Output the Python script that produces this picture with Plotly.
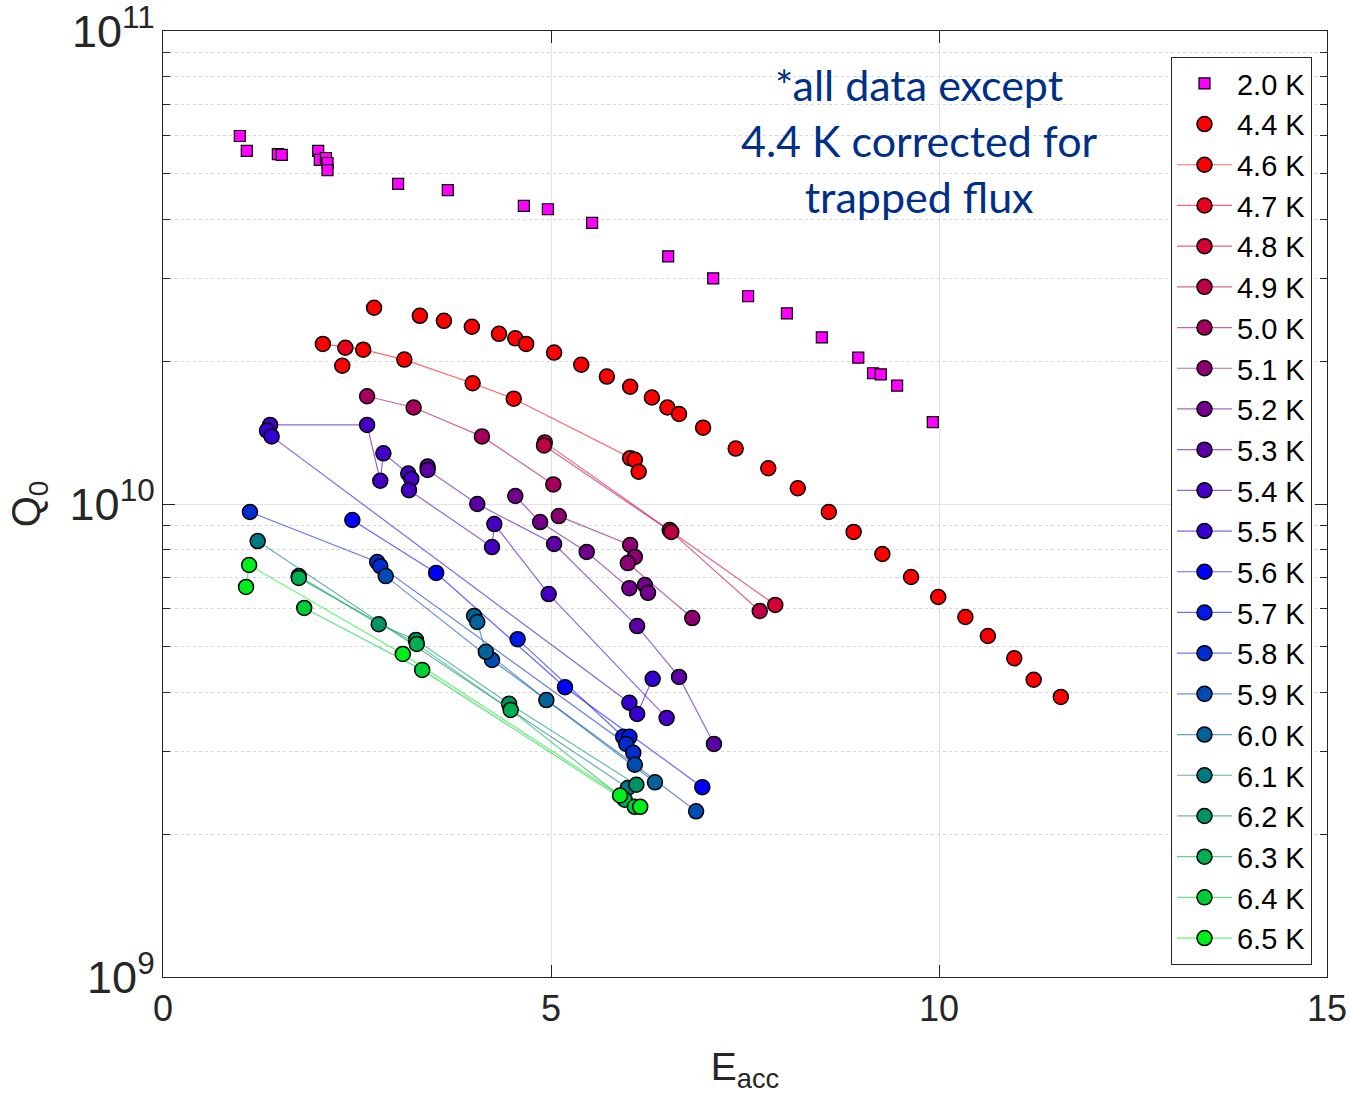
import plotly.graph_objects as go

# Accelerating gradient E_acc (MV/m) and intrinsic quality factor Q0 per bath temperature
E_20 = [0.99, 1.08, 1.48, 1.53, 2.00, 2.02, 2.10, 2.12, 2.12, 3.03, 3.67, 4.65, 4.96, 5.53,
        6.51, 7.09, 7.54, 8.04, 8.49, 8.96, 9.15, 9.25, 9.46, 9.92]
Q_20 = [6.00e10, 5.58e10, 5.49e10, 5.47e10, 5.58e10, 5.34e10, 5.39e10, 5.26e10, 5.08e10, 4.75e10,
        4.61e10, 4.27e10, 4.20e10, 3.93e10, 3.34e10, 3.00e10, 2.75e10, 2.53e10, 2.25e10, 2.04e10,
        1.89e10, 1.88e10, 1.78e10, 1.49e10]

E_44 = [2.31, 2.72, 3.31, 3.62, 3.98, 4.33, 4.54, 4.68, 5.04, 5.39, 5.72, 6.02, 6.30, 6.50, 6.65,
        6.96, 7.38, 7.80, 8.18, 8.58, 8.90, 9.27, 9.64, 9.99, 10.34, 10.63, 10.97, 11.22, 11.57]
Q_44 = [1.96e10, 2.60e10, 2.50e10, 2.44e10, 2.37e10, 2.29e10, 2.24e10, 2.18e10, 2.09e10, 1.97e10,
        1.86e10, 1.77e10, 1.68e10, 1.60e10, 1.55e10, 1.45e10, 1.31e10, 1.19e10, 1.08e10, 9.62e9,
        8.73e9, 7.84e9, 7.01e9, 6.36e9, 5.77e9, 5.26e9, 4.72e9, 4.25e9, 3.91e9]

E_46 = [2.06, 2.58, 3.11, 3.99, 4.52, 6.02, 6.08, 6.13]
Q_46 = [2.18e10, 2.12e10, 2.02e10, 1.80e10, 1.67e10, 1.25e10, 1.24e10, 1.17e10]

E_47 = [2.35]
Q_47 = [2.14e10]

E_48 = [4.92, 6.53, 7.89]
Q_48 = [1.35e10, 8.81e9, 6.12e9]

E_49 = [4.91, 6.55, 7.69]
Q_49 = [1.33e10, 8.73e9, 5.94e9]

E_50 = [2.63, 3.23, 4.11, 5.03]
Q_50 = [1.69e10, 1.60e10, 1.39e10, 1.10e10]

E_51 = [5.10, 6.02, 6.08, 5.99, 6.82]
Q_51 = [9.43e9, 8.19e9, 7.73e9, 7.50e9, 5.74e9]

E_52 = [4.54, 4.86, 5.46, 6.01, 6.21, 6.25]
Q_52 = [1.04e10, 9.16e9, 7.92e9, 6.64e9, 6.74e9, 6.49e9]

E_53 = [3.41, 3.41, 4.05, 5.04, 6.11, 6.65, 7.10]
Q_53 = [1.20e10, 1.18e10, 1.00e10, 8.23e9, 5.52e9, 4.31e9, 3.11e9]

E_54 = [1.38, 2.63, 2.80, 2.84, 3.16, 3.20, 3.17, 4.24, 4.27, 4.97, 6.49]
Q_54 = [1.47e10, 1.47e10, 1.12e10, 1.28e10, 1.16e10, 1.13e10, 1.07e10, 8.11e9, 9.07e9, 6.45e9, 3.53e9]

E_55 = [1.34, 1.40, 6.01, 6.11, 6.31]
Q_55 = [1.43e10, 1.39e10, 3.80e9, 3.60e9, 4.27e9]

E_56 = [2.44, 3.52, 5.18, 6.95]
Q_56 = [9.25e9, 7.15e9, 4.10e9, 2.52e9]

E_57 = [4.57, 5.93, 6.01]
Q_57 = [5.18e9, 3.22e9, 3.22e9]

E_58 = [1.12, 2.76, 2.80, 5.97, 6.06]
Q_58 = [9.62e9, 7.54e9, 7.39e9, 3.11e9, 2.98e9]

E_59 = [2.87, 4.24, 6.08, 6.87]
Q_59 = [7.04e9, 4.68e9, 2.81e9, 2.24e9]

E_60 = [4.01, 4.05, 4.16, 4.94, 6.34]
Q_60 = [5.80e9, 5.63e9, 4.87e9, 3.85e9, 2.58e9]

E_61 = [1.22, 5.99]
Q_61 = [8.35e9, 2.51e9]

E_62 = [1.75, 2.78, 3.26, 4.46, 6.10]
Q_62 = [7.04e9, 5.57e9, 5.16e9, 3.78e9, 2.55e9]

E_63 = [1.75, 3.27, 4.48, 5.95]
Q_63 = [6.98e9, 5.06e9, 3.67e9, 2.37e9]

E_64 = [1.82, 3.34, 6.08]
Q_64 = [6.03e9, 4.46e9, 2.29e9]

E_65 = [1.07, 1.11, 3.09, 5.89, 6.15]
Q_65 = [6.68e9, 7.43e9, 4.82e9, 2.42e9, 2.29e9]

labels = ["2.0 K", "4.4 K", "4.6 K", "4.7 K", "4.8 K", "4.9 K", "5.0 K", "5.1 K", "5.2 K",
          "5.3 K", "5.4 K", "5.5 K", "5.6 K", "5.7 K", "5.8 K", "5.9 K", "6.0 K", "6.1 K",
          "6.2 K", "6.3 K", "6.4 K", "6.5 K"]
E_sets = [E_20, E_44, E_46, E_47, E_48, E_49, E_50, E_51, E_52, E_53, E_54, E_55, E_56, E_57,
          E_58, E_59, E_60, E_61, E_62, E_63, E_64, E_65]
Q_sets = [Q_20, Q_44, Q_46, Q_47, Q_48, Q_49, Q_50, Q_51, Q_52, Q_53, Q_54, Q_55, Q_56, Q_57,
          Q_58, Q_59, Q_60, Q_61, Q_62, Q_63, Q_64, Q_65]

# marker colours: magenta for 2 K, then a red -> violet -> blue -> green ramp with temperature
colors = [(255, 0, 255), (255, 0, 0), (255, 0, 0), (232, 0, 28), (212, 0, 52), (190, 0, 72),
          (165, 0, 92), (140, 0, 115), (115, 0, 140), (92, 0, 165), (70, 0, 195), (55, 0, 210),
          (0, 0, 255), (0, 25, 232), (0, 45, 208), (0, 75, 180), (0, 100, 155), (0, 122, 130),
          (0, 145, 105), (0, 175, 80), (0, 205, 55), (0, 238, 25)]

fig = go.Figure()
for i, (lab, ex, qy, c) in enumerate(zip(labels, E_sets, Q_sets, colors)):
    rgb = "rgb(%d,%d,%d)" % c
    line_rgb = "rgba(%d,%d,%d,0.6)" % c
    if i == 0:
        fig.add_trace(go.Scatter(
            x=ex, y=qy, mode="markers", name=lab,
            marker=dict(symbol="square", size=11, color=rgb,
                        line=dict(color="black", width=1.2))))
    elif i == 1:
        fig.add_trace(go.Scatter(
            x=ex, y=qy, mode="markers", name=lab,
            marker=dict(symbol="circle", size=15, color=rgb,
                        line=dict(color="black", width=1.5))))
    else:
        fig.add_trace(go.Scatter(
            x=ex, y=qy, mode="lines+markers", name=lab,
            line=dict(color=line_rgb, width=1.2),
            marker=dict(symbol="circle", size=15, color=rgb,
                        line=dict(color="black", width=1.5))))

axis_color = "#262626"
grid_color = "#e3e3e3"
font_family = "Liberation Sans, Arial, sans-serif"
tick_font = dict(family=font_family, size=36, color=axis_color)

fig.update_layout(
    width=1350, height=1097,
    margin=dict(l=163, r=23, t=31, b=120),
    paper_bgcolor="white", plot_bgcolor="white",
    showlegend=True,
    legend=dict(
        x=0.9871, y=0.9725, xanchor="right", yanchor="top",
        bgcolor="white", bordercolor="#262626", borderwidth=1,
        font=dict(family=font_family, size=29, color="black"),
        itemwidth=55,
    ),
    xaxis=dict(
        range=[0, 15], tickvals=[0, 5, 10, 15], ticktext=["0", "5", "10", "15"],
        automargin=False, ticklabeloverflow="allow",
        showline=True, linecolor=axis_color, linewidth=1.2, mirror="allticks",
        ticks="inside", ticklen=12, tickcolor=axis_color,
        showgrid=True, gridcolor=grid_color, zeroline=False,
        tickfont=tick_font,
        title=dict(text="E<sub>acc</sub>", font=dict(family=font_family, size=39, color=axis_color),
                   standoff=24),
    ),
    yaxis=dict(
        type="log", range=[9, 11.0001], dtick=1, exponentformat="power",
        automargin=False, ticklabeloverflow="allow",
        showline=True, linecolor=axis_color, linewidth=1.2, mirror="allticks",
        ticks="inside", ticklen=12, tickcolor=axis_color,
        showgrid=True, gridcolor=grid_color, zeroline=False,
        tickfont=tick_font,
        minor=dict(ticks="inside", ticklen=7, tickcolor=axis_color, showgrid=True,
                   gridcolor="#d6d6d6", griddash="dot"),
        title=dict(text="Q<sub>0</sub>", font=dict(family=font_family, size=40, color=axis_color),
                   standoff=16),
    ),
)

fig.add_annotation(
    x=0.650, y=0.884, xref="paper", yref="paper", xanchor="center", yanchor="middle",
    text="*all data except<br>4.4 K corrected for<br>trapped flux",
    showarrow=False, align="center",
    font=dict(family="Lato, Open Sans, sans-serif", size=43, color="#002f87"),
)

fig.write_html("out.html")
